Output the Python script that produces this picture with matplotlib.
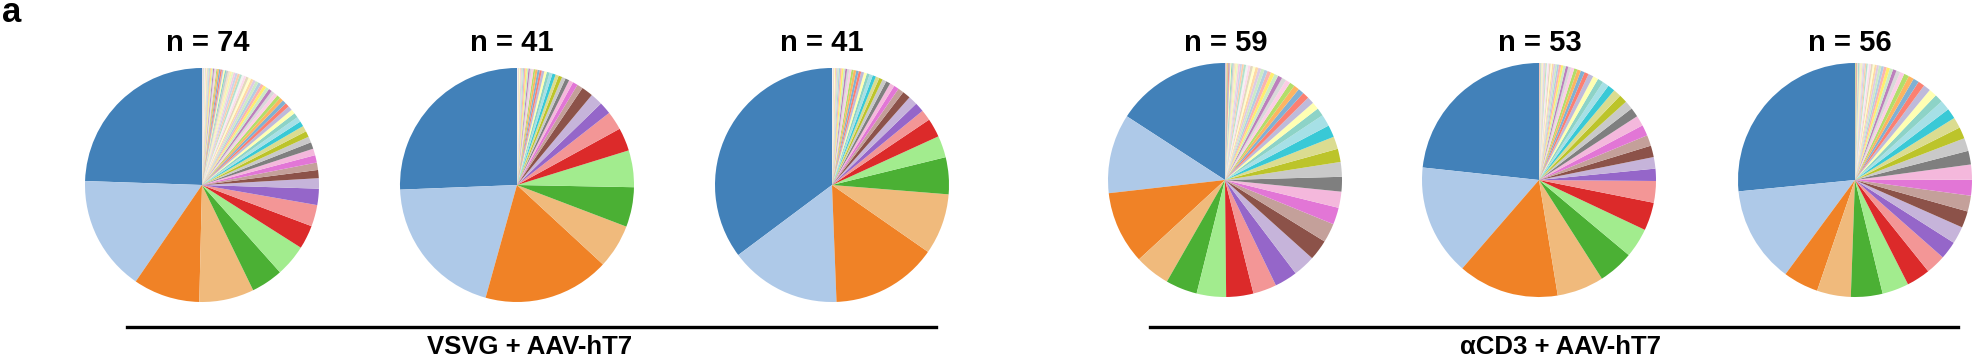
import matplotlib
matplotlib.use("Agg")
import matplotlib.pyplot as plt

plt.rcParams["font.family"] = ["Liberation Sans", "DejaVu Sans"]

# clone frequencies (%) per sample, largest first
pie1 = [23.9, 15.6, 9.0, 7.4, 4.3, 4.3, 3.2, 2.9, 2.2, 1.4, 1.1,
        1.0, 1.0, 0.9, 0.9, 0.8, 0.8, 0.8, 0.7, 0.7,
        0.65, 0.6, 0.6, 0.55, 0.55, 0.5, 0.5, 0.5, 0.45, 0.45, 0.45,
        0.4, 0.4, 0.4, 0.4, 0.35, 0.35, 0.35, 0.35, 0.3, 0.3, 0.3, 0.3, 0.3,
        0.25, 0.25, 0.25, 0.25, 0.25, 0.2, 0.2, 0.2, 0.2, 0.2, 0.2,
        0.15, 0.15, 0.15, 0.15, 0.15, 0.15, 0.12, 0.12, 0.12,
        0.1, 0.1, 0.1, 0.1, 0.08, 0.08, 0.08, 0.06, 0.06, 0.05]
pie2 = [25.7, 20.1, 17.5, 6.1, 5.5, 5.1, 3.2, 2.6, 1.7, 1.7, 1.6,
        0.8, 0.7, 0.6, 0.55, 0.5, 0.5, 0.45, 0.45, 0.4,
        0.4, 0.35, 0.35, 0.3, 0.3, 0.3, 0.25, 0.25, 0.25, 0.2, 0.2, 0.2, 0.2,
        0.15, 0.15, 0.15, 0.12, 0.12, 0.1, 0.1, 0.08]
pie3 = [35.2, 15.4, 14.7, 8.4, 5.1, 3.0, 2.6, 1.5, 1.3, 1.25, 1.1,
        0.8, 0.7, 0.65, 0.6, 0.55, 0.5, 0.5, 0.45, 0.45, 0.4, 0.4, 0.4,
        0.35, 0.35, 0.35, 0.3, 0.3, 0.3, 0.25, 0.25, 0.25, 0.2, 0.2, 0.2,
        0.15, 0.15, 0.12, 0.12, 0.1, 0.08]
pie4 = [15.6, 10.8, 9.9, 4.8, 4.3, 4.0, 3.7, 3.2, 3.1, 3.0, 2.8, 2.6, 2.3, 2.2,
        2.0, 2.0, 1.8, 1.7, 1.65, 1.6,
        1.1, 1.0, 0.95, 0.9, 0.8, 0.75, 0.7, 0.65, 0.6, 0.6, 0.55,
        0.5, 0.5, 0.45, 0.45, 0.4, 0.4, 0.35, 0.35, 0.3, 0.3, 0.3,
        0.25, 0.25, 0.25, 0.2, 0.2, 0.2, 0.18, 0.15, 0.15, 0.12, 0.12,
        0.1, 0.1, 0.08, 0.08, 0.06, 0.05]
pie5 = [23.4, 15.4, 14.0, 6.5, 4.9, 4.1, 3.9, 3.0, 1.7, 1.6, 1.6, 1.5, 1.5, 1.45,
        1.3, 1.2,
        1.15, 1.1, 1.0, 0.9, 0.8, 0.75, 0.7, 0.6, 0.55, 0.5, 0.45, 0.45, 0.4,
        0.35, 0.35, 0.3, 0.3, 0.25, 0.25, 0.25, 0.2, 0.2, 0.2, 0.18,
        0.15, 0.15, 0.12, 0.12, 0.1, 0.1, 0.1, 0.08, 0.08, 0.06, 0.06, 0.05, 0.05]
pie6 = [26.7, 13.4, 4.9, 4.7, 4.4, 3.7, 3.3, 2.75, 2.5, 2.4, 2.3, 2.2, 2.2, 2.1,
        1.9, 1.8, 1.6, 1.5, 1.45, 1.4,
        1.15, 1.1, 1.0, 0.9, 0.8, 0.75, 0.7, 0.6, 0.55, 0.5, 0.45, 0.45, 0.4,
        0.35, 0.35, 0.3, 0.3, 0.25, 0.25, 0.25, 0.2, 0.2, 0.2, 0.18,
        0.15, 0.15, 0.12, 0.12, 0.1, 0.1, 0.1, 0.08, 0.08, 0.06, 0.06, 0.05]

samples = [pie1, pie2, pie3, pie4, pie5, pie6]
titles = ["n = 74", "n = 41", "n = 41", "n = 59", "n = 53", "n = 56"]
groups = ["VSVG + AAV-hT7", "\u03b1CD3 + AAV-hT7"]

# colours: tab20-ish, then Set3, then pastel sets
base = ["#4281b9", "#aec9e8", "#f08226", "#f0ba7c", "#4bb034", "#a2ec8e",
        "#dc2a2a", "#f39696", "#9566c9", "#c6b4da", "#8c5249", "#c4a09a",
        "#e276d6", "#f4b8dc", "#7f7f7f", "#c9c9c9", "#bcc42a", "#dbdc90",
        "#39c9d6", "#a6e0e6"]
extra = list(plt.get_cmap("Set3").colors) + list(plt.get_cmap("Pastel1").colors) \
    + list(plt.get_cmap("Pastel2").colors) + list(plt.get_cmap("Set3").colors) \
    + list(plt.get_cmap("Pastel1").colors) + list(plt.get_cmap("Pastel2").colors)
colors = base + extra

W, H = 1984, 360
fig = plt.figure(figsize=(W / 100, H / 100), dpi=100)

centers = [(202, 185), (517, 185), (832, 185), (1225, 180), (1539, 180), (1855, 180)]
title_x = [208, 512, 822, 1226, 1540, 1850]
r = 117

for vals, (cx, cy), t, tx in zip(samples, centers, titles, title_x):
    ax = fig.add_axes([(cx - r) / W, 1 - (cy + r) / H, 2 * r / W, 2 * r / H])
    ax.pie(vals, colors=colors[:len(vals)], startangle=90, counterclock=True,
           wedgeprops=dict(linewidth=0), radius=1)
    ax.set_xlim(-1, 1)
    ax.set_ylim(-1, 1)
    ax.axis("off")
    fig.text(tx / W, 1 - 43 / H, t, ha="center", va="center",
             fontsize=21, fontweight="bold")

# group bars and labels
for (x0, x1), lx, g in zip([(127, 936), (1150, 1958)], [530, 1560], groups):
    fig.add_artist(plt.Line2D([x0 / W, x1 / W], [1 - 327 / H, 1 - 327 / H],
                              color="black", linewidth=2.4))
    fig.text(lx / W, 1 - 347 / H, g, ha="center", va="center",
             fontsize=18.5, fontweight="bold")

fig.text(2 / W, 1 - 13 / H, "a", ha="left", va="center",
         fontsize=25, fontweight="bold")

fig.savefig("out.png", dpi=100)
